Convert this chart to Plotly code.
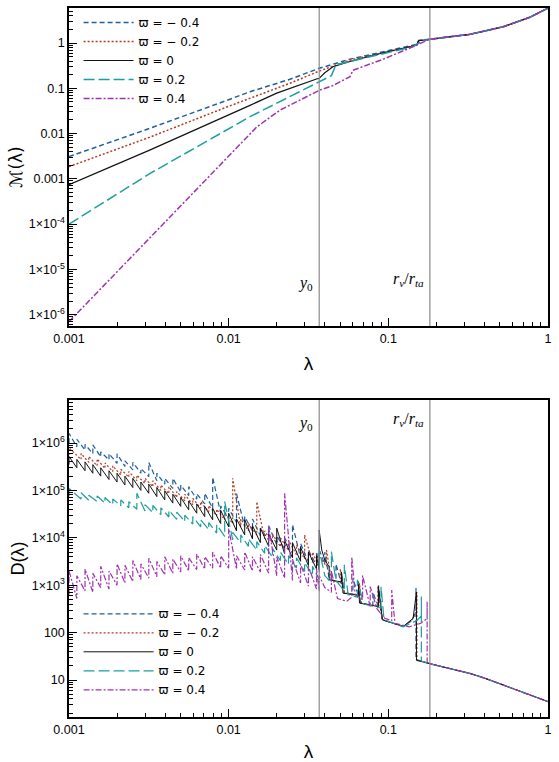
import math
import plotly.graph_objects as go
from plotly.subplots import make_subplots

# ---------------- labels / styles ----------------
series_labels = ["ϖ = − 0.4", "ϖ = − 0.2", "ϖ = 0", "ϖ = 0.2", "ϖ = 0.4"]
series_colors = ["#1f5f9f", "#b33a22", "#111111", "#1d9e9e", "#a032b0"]
series_dash = ["5px,3px", "2px,2px", "solid", "11px,4px", "6px,2px,2px,2px"]

y0_val = 0.0369
rv_rta_val = 0.182

x_tickvals = [0.001, 0.01, 0.1, 1]
x_ticktext = ["0.001", "0.01", "0.1", "1"]
yM_tickvals = [1e-6, 1e-5, 1e-4, 1e-3, 1e-2, 1e-1, 1]
yM_ticktext = ["1×10<sup>-6</sup>", "1×10<sup>-5</sup>", "1×10<sup>-4</sup>", "0.001", "0.01", "0.1", "1"]
yD_tickvals = [10, 100, 1e3, 1e4, 1e5, 1e6]
yD_ticktext = ["10", "100", "1×10<sup>3</sup>", "1×10<sup>4</sup>", "1×10<sup>5</sup>", "1×10<sup>6</sup>"]

# ---------------- top panel: M(lambda) ----------------
lam_M_m04 = [0.001, 0.0032, 0.01, 0.0136, 0.0242, 0.0369, 0.0575, 0.093, 0.143, 0.150, 0.155]
M_m04 = [0.0031, 0.013, 0.056, 0.084, 0.158, 0.276, 0.44, 0.64, 0.90, 0.93, 1.14]
lam_M_m02 = [0.001, 0.0032, 0.01, 0.0136, 0.0242, 0.0369, 0.0575, 0.093, 0.143, 0.151, 0.155]
M_m02 = [0.00186, 0.0083, 0.04, 0.06, 0.129, 0.24, 0.42, 0.61, 0.87, 0.90, 1.13]
lam_M_0 = [0.001, 0.0032, 0.0136, 0.02, 0.0355, 0.0369, 0.040, 0.045, 0.0575, 0.093, 0.143, 0.150, 0.155]
M_0 = [0.00074, 0.0043, 0.042, 0.078, 0.16, 0.166, 0.22, 0.30, 0.39, 0.61, 0.86, 0.90, 1.12]
lam_M_p02 = [0.001, 0.0032, 0.0136, 0.0242, 0.0369, 0.044, 0.047, 0.0575, 0.093, 0.143, 0.160, 0.165]
M_p02 = [1.0e-4, 0.0013, 0.0236, 0.065, 0.14, 0.19, 0.33, 0.39, 0.59, 0.83, 1.05, 1.14]
lam_M_p04 = [0.001, 0.0056, 0.015, 0.021, 0.0369, 0.045, 0.052, 0.0575, 0.060, 0.093, 0.143, 0.170]
M_p04 = [7e-7, 3.7e-4, 0.014, 0.033, 0.09, 0.115, 0.15, 0.18, 0.25, 0.44, 0.83, 1.12]
lam_M_outer = [0.18, 0.243, 0.324, 0.41, 0.525, 0.77, 1.0]
M_outer = [1.2, 1.38, 1.55, 1.87, 2.29, 3.7, 5.9]

# ---------------- bottom panel: D(lambda) ----------------
lam_grid_a = [0.001, 0.00112, 0.00126, 0.00141, 0.00158, 0.00178, 0.00200, 0.00224,
              0.00251, 0.00282, 0.00316, 0.00355, 0.00398, 0.00447, 0.00501, 0.00562,
              0.00631, 0.00708, 0.00794, 0.00891, 0.0100, 0.0112, 0.0126, 0.0141,
              0.0158, 0.0178, 0.0200, 0.0224, 0.0251, 0.0282, 0.0316, 0.0355]
lam_grid_b = [0.001, 0.00119, 0.00133, 0.00150, 0.00168, 0.00188, 0.00211, 0.00237,
              0.00266, 0.00299, 0.00335, 0.00376, 0.00422, 0.00473, 0.00531, 0.00596,
              0.00668, 0.00750, 0.00841, 0.00944, 0.0106, 0.0119, 0.0133, 0.0150,
              0.0168, 0.0188, 0.0211, 0.0237, 0.0266, 0.0299, 0.0335]

base_D_m04 = [1.0e6, 8.3e5, 7.1e5, 6.0e5, 5.1e5, 4.4e5, 3.7e5, 3.2e5, 2.7e5, 2.3e5, 1.95e5,
              1.6e5, 1.35e5, 1.1e5, 9.3e4, 7.8e4, 6.5e4, 5.2e4, 4.2e4, 3.3e4, 2.6e4, 2.1e4,
              1.7e4, 1.4e4, 1.1e4, 8.9e3, 7.1e3, 5.8e3, 4.7e3, 3.8e3, 3.1e3, 2.6e3]
peak_D_m04 = [1.6e6, 1.2e6, 9.3e5, 9.1e5, 6.5e5, 6.0e5, 5.9e5, 4.2e5, 3.9e5, 2.9e5, 3.9e5,
              2.3e5, 1.8e5, 1.8e5, 1.3e5, 1.2e5, 8.5e4, 8.7e4, 1.9e5, 4.7e4, 4.2e4, 8.5e4,
              2.8e4, 2.5e4, 1.6e4, 1.8e4, 1.1e4, 1.0e4, 1.9e4, 7.6e3, 5.5e3, 5.1e3]
tail_lam_m04 = [0.0369, 0.0369, 0.0400, 0.0400, 0.0426, 0.0470, 0.0470, 0.0509, 0.0509, 0.0530,
                0.0600, 0.0600, 0.0650, 0.0650, 0.0670, 0.0800, 0.0800, 0.0867, 0.0867, 0.0918,
                0.124, 0.140, 0.149, 0.149, 0.149]
tail_D_m04 = [2.4e3, 5.6e3, 2.8e3, 5.0e3, 1.4e3, 1.2e3, 2.8e3, 1.05e3, 1.8e3, 680,
              630, 1.4e3, 600, 1.26e3, 420, 380, 710, 355, 1.0e3, 186,
              135, 178, 280, 890, 27]

base_D_m02 = [5.6e5, 4.5e5, 3.9e5, 3.3e5, 2.9e5, 2.5e5, 2.1e5, 1.9e5, 1.6e5, 1.4e5, 1.2e5,
              1.0e5, 8.5e4, 7.1e4, 6.0e4, 5.0e4, 4.2e4, 3.5e4, 2.9e4, 2.4e4, 2.0e4, 1.7e4,
              1.4e4, 1.15e4, 9.5e3, 7.8e3, 6.5e3, 5.4e3, 4.4e3, 3.6e3, 3.0e3]
peak_D_m02 = [7.9e5, 6.0e5, 5.2e5, 4.6e5, 3.8e5, 3.3e5, 2.8e5, 2.5e5, 2.1e5, 1.8e5, 1.6e5,
              1.3e5, 1.2e5, 9.5e4, 8.3e4, 6.8e4, 5.8e4, 4.8e4, 4.0e4, 3.3e4, 1.8e5, 2.5e4,
              2.0e4, 5.8e4, 1.4e4, 1.2e4, 1.0e4, 8.9e3, 7.1e3, 1.15e4, 5.0e3]
tail_lam_m02 = [0.0369, 0.0369, 0.0410, 0.0410, 0.0440, 0.0500, 0.0500, 0.0530, 0.0660, 0.0660,
                0.0680, 0.0860, 0.0860, 0.0910, 0.124, 0.140, 0.151, 0.151, 0.151]
tail_D_m02 = [2.3e3, 4.0e3, 2.5e3, 5.5e3, 1.3e3, 1.1e3, 2.2e3, 710, 600, 1.1e3,
              420, 360, 930, 190, 135, 182, 280, 710, 27]

base_D_0 = [3.5e5, 3.0e5, 2.6e5, 2.3e5, 2.0e5, 1.7e5, 1.5e5, 1.3e5, 1.15e5, 1.0e5, 8.7e4,
            7.4e4, 6.3e4, 5.4e4, 4.6e4, 3.9e4, 3.3e4, 2.8e4, 2.4e4, 2.0e4, 1.7e4, 1.4e4,
            1.15e4, 9.5e3, 7.9e3, 6.6e3, 5.5e3, 4.6e3, 3.8e3, 3.2e3, 2.6e3, 2.2e3]
peak_D_0 = [5.2e5, 4.5e5, 4.0e5, 3.5e5, 3.0e5, 2.6e5, 2.3e5, 2.0e5, 1.8e5, 1.5e5, 1.35e5,
            1.15e5, 9.8e4, 8.3e4, 7.1e4, 6.0e4, 5.2e4, 4.6e4, 4.2e4, 3.8e4, 3.3e4, 2.5e4,
            2.4e4, 1.8e4, 1.6e4, 1.2e4, 1.6e4, 8.9e3, 7.9e3, 6.3e3, 5.0e3, 4.2e3]
tail_lam_0 = [0.0369, 0.0369, 0.0383, 0.0400, 0.0426, 0.0426, 0.0509, 0.0509, 0.0520, 0.0650,
              0.0650, 0.0660, 0.0867, 0.0867, 0.0918, 0.124, 0.143, 0.150, 0.150]
tail_D_0 = [2.1e3, 1.45e4, 5.5e3, 3.4e3, 2.45e3, 1.3e3, 1.17e3, 1.9e3, 680, 620,
            1.17e3, 420, 355, 930, 186, 135, 200, 720, 26]

base_D_p02 = [7.4e4, 6.6e4, 6.2e4, 5.8e4, 5.4e4, 5.0e4, 4.7e4, 4.3e4, 4.0e4, 3.7e4, 3.4e4,
              3.1e4, 2.75e4, 2.45e4, 2.2e4, 1.95e4, 1.7e4, 1.5e4, 1.26e4, 1.07e4, 9.1e3,
              7.8e3, 6.6e3, 5.5e3, 4.7e3, 3.9e3, 3.3e3, 2.75e3, 2.3e3, 1.95e3, 1.6e3]
peak_D_p02 = [1.1e5, 8.9e4, 7.9e4, 7.6e4, 7.1e4, 6.6e4, 6.3e4, 5.8e4, 8.7e4, 5.0e4, 4.8e4,
              4.3e4, 3.8e4, 3.5e4, 3.0e4, 2.8e4, 2.4e4, 2.1e4, 1.9e4, 5.8e4, 1.3e4,
              1.15e4, 9.5e3, 8.3e3, 6.9e3, 6.0e3, 5.0e3, 4.2e3, 3.8e3, 3.0e3, 2.5e3]
tail_lam_p02 = [0.0369, 0.0369, 0.0400, 0.0440, 0.0440, 0.0470, 0.0530, 0.0530, 0.0560, 0.0640,
                0.0640, 0.0700, 0.0900, 0.0900, 0.0940, 0.124, 0.150, 0.161, 0.161, 0.161]
tail_D_p02 = [1.3e3, 5.6e3, 1.6e3, 1.1e3, 5.1e3, 1.26e3, 760, 2.7e3, 630, 560,
              1.3e3, 400, 330, 930, 186, 132, 178, 224, 575, 25]

base_D_p04 = [630, 525, 760, 710, 890, 830, 1.0e3, 1.12e3, 1.2e3, 1.32e3, 1.41e3, 1.51e3,
              1.66e3, 1.78e3, 1.9e3, 2.0e3, 2.14e3, 2.19e3, 2.29e3, 2.29e3, 2.29e3, 2.19e3,
              2.09e3, 2.0e3, 1.9e3, 1.78e3, 1.58e3, 1.41e3, 1.26e3, 1.12e3, 955, 830]
peak_D_p04 = [2.0e3, 1.58e3, 2.19e3, 1.78e3, 2.51e3, 2.0e3, 2.82e3, 2.63e3, 3.31e3, 2.82e3,
              3.72e3, 3.16e3, 3.98e3, 3.55e3, 4.17e3, 3.8e3, 4.57e3, 3.98e3, 5.0e3, 4.17e3,
              1.58e4, 4.17e3, 5.0e3, 3.98e3, 4.47e3, 1.74e4, 3.98e3, 8.7e4, 3.55e3, 2.82e3,
              2.51e3, 2.24e3]
tail_lam_p04 = [0.0369, 0.0369, 0.0400, 0.0440, 0.0440, 0.0480, 0.0550, 0.0590, 0.0590, 0.0620,
                0.0690, 0.0690, 0.0770, 0.0770, 0.0850, 0.0950, 0.105, 0.105, 0.110, 0.135,
                0.160, 0.175, 0.175, 0.175]
tail_D_p04 = [760, 1.6e3, 890, 710, 2.0e3, 525, 460, 560, 4.0e3, 630,
              500, 1.6e3, 355, 930, 316, 200, 178, 790, 158, 132,
              158, 200, 450, 24]

lam_D_outer = [0.182, 0.25, 0.324, 0.4, 0.525, 0.7, 1.0]
D_outer = [22, 17, 13.8, 11, 7.8, 5.6, 3.5]

top_series = [(lam_M_m04, M_m04), (lam_M_m02, M_m02), (lam_M_0, M_0),
              (lam_M_p02, M_p02), (lam_M_p04, M_p04)]
bottom_series = [(lam_grid_a, base_D_m04, peak_D_m04, tail_lam_m04, tail_D_m04),
                 (lam_grid_b, base_D_m02, peak_D_m02, tail_lam_m02, tail_D_m02),
                 (lam_grid_a, base_D_0, peak_D_0, tail_lam_0, tail_D_0),
                 (lam_grid_b, base_D_p02, peak_D_p02, tail_lam_p02, tail_D_p02),
                 (lam_grid_a, base_D_p04, peak_D_p04, tail_lam_p04, tail_D_p04)]
top_widths = [1.5, 1.5, 1.2, 1.5, 1.5]
bottom_widths = [1.2, 1.2, 1.0, 1.2, 1.2]

fig = make_subplots(rows=2, cols=1)

for i, (lx, my) in enumerate(top_series):
    fig.add_trace(go.Scatter(
        x=lx + lam_M_outer, y=my + M_outer, mode="lines", name=series_labels[i],
        line=dict(color=series_colors[i], dash=series_dash[i], width=top_widths[i]),
        legend="legend"), row=1, col=1)

for i, (grid, base, peak, tl, td) in enumerate(bottom_series):
    xs, ys = [], []
    for l, b, p in zip(grid, base, peak):
        xs += [l, l]
        ys += [b, p]
    xs += tl + lam_D_outer
    ys += td + D_outer
    fig.add_trace(go.Scatter(
        x=xs, y=ys, mode="lines", name=series_labels[i],
        line=dict(color=series_colors[i], dash=series_dash[i], width=bottom_widths[i]),
        legend="legend2"), row=2, col=1)

axis_common = dict(type="log", showline=True, linecolor="black", linewidth=1.5, mirror=True,
                   showgrid=False, zeroline=False, ticks="inside", ticklen=8, tickwidth=1,
                   tickcolor="black", tickfont=dict(size=12.5, color="black"), automargin=False,
                   minor=dict(ticks="inside", ticklen=4, tickwidth=1, tickcolor="black",
                              dtick="D1", showgrid=False))

fig.update_xaxes(**axis_common, range=[-3, 0], tickvals=x_tickvals, ticktext=x_ticktext)
fig.update_xaxes(title=dict(text="λ", font=dict(size=19), standoff=12), row=1, col=1)
fig.update_xaxes(title=dict(text="λ", font=dict(size=19), standoff=20), row=2, col=1)
fig.update_yaxes(**axis_common)
fig.update_yaxes(range=[-6.25, 0.773], tickvals=yM_tickvals, ticktext=yM_ticktext,
                 title=dict(text="ℳ(λ)", font=dict(size=17, family="DejaVu Sans, sans-serif"),
                            standoff=2), row=1, col=1)
fig.update_yaxes(range=[0.22, 6.907], tickvals=yD_tickvals, ticktext=yD_ticktext,
                 title=dict(text="D(λ)", font=dict(size=18), standoff=2), row=2, col=1)

for row in (1, 2):
    for xv in (y0_val, rv_rta_val):
        fig.add_vline(x=xv, line=dict(color="#8a8a8a", width=1.2), row=row, col=1)

label_font = dict(family="Liberation Serif, DejaVu Serif, serif", size=16, color="black")
for xref, yref, yv in (("x", "y domain", 0.135), ("x2", "y2 domain", 0.927)):
    fig.add_annotation(x=math.log10(y0_val), y=yv, xref=xref, yref=yref,
                       text="<i>y</i><sub>0</sub>", showarrow=False,
                       xanchor="right", yanchor="middle", xshift=-4, font=label_font)
    fig.add_annotation(x=math.log10(rv_rta_val), y=yv + 0.012, xref=xref, yref=yref,
                       text="<i>r<sub>v</sub></i>/<i>r<sub>ta</sub></i>", showarrow=False,
                       xanchor="right", yanchor="middle", xshift=-4, font=label_font)

legend_common = dict(xanchor="left", yanchor="top", bgcolor="rgba(0,0,0,0)",
                     font=dict(size=12, color="black", family="DejaVu Sans, sans-serif"),
                     tracegroupgap=0)
fig.update_layout(
    width=559, height=762,
    margin=dict(l=69, r=11, t=8, b=45, autoexpand=False),
    paper_bgcolor="white", plot_bgcolor="white",
    font=dict(family="Liberation Sans, Arial, sans-serif", color="black"),
    legend=dict(x=0.02, y=1.0, itemwidth=50, **legend_common),
    legend2=dict(x=0.02, y=0.166, itemwidth=70, **legend_common),
)
fig.update_layout(yaxis=dict(domain=[0.5515, 1.0]), yaxis2=dict(domain=[0.0, 0.4471]))

fig.write_html("out.html")
